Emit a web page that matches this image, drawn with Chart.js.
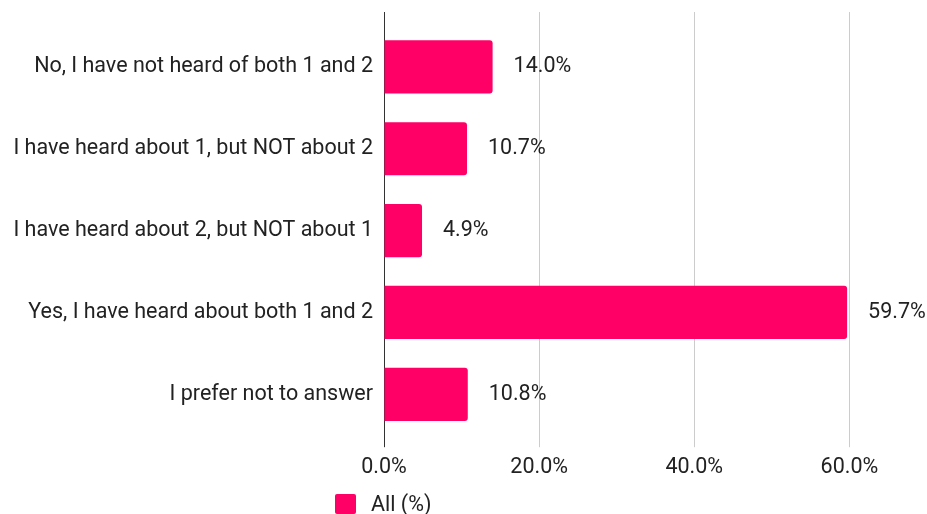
<!DOCTYPE html>
<html>
<head>
<meta charset="utf-8">
<script src="https://cdn.jsdelivr.net/npm/chart.js@4"></script>
<style>
  body { margin: 0; background: #fff; }
  #wrap { position: relative; width: 927px; height: 514px; }
  #legend { position: absolute; left: 335px; top: 491px; display: flex; align-items: center;
            font: 21.5px Roboto, sans-serif; color: #222; }
  #legend span.box { width: 21px; height: 20px; border-radius: 2px; background: #ff0066; margin-right: 15px; }
</style>
</head>
<body>
<div id="wrap">
  <canvas id="awarenessChart" width="927" height="514"></canvas>
  <div id="legend"><span class="box"></span><span>All (%)</span></div>
</div>
<script>
// DATA
const answers = [
  'No, I have not heard of both 1 and 2',
  'I have heard about 1, but NOT about 2',
  'I have heard about 2, but NOT about 1',
  'Yes, I have heard about both 1 and 2',
  'I prefer not to answer'
];
const allPercent = [14.0, 10.7, 4.9, 59.7, 10.8];
const xTicks = [0, 20, 40, 60];

const gridColor = ctx => ctx.tick && ctx.tick.value === 0 ? '#333' : '#ccc';
const keepTicks = scale => { scale.ticks = scale.ticks.filter(t => xTicks.includes(t.value)); };

// value labels to the right of each bar
const barLabels = {
  id: 'barLabels',
  afterDatasetsDraw(chart) {
    const ctx = chart.ctx;
    const meta = chart.getDatasetMeta(0);
    ctx.save();
    ctx.font = '21.5px Roboto, sans-serif';
    ctx.fillStyle = '#222';
    ctx.textAlign = 'left';
    ctx.textBaseline = 'middle';
    meta.data.forEach((bar, i) => {
      ctx.fillText(allPercent[i].toFixed(1) + '%', bar.x + 21, bar.y);
    });
    ctx.restore();
  }
};

const awarenessCtx = document.getElementById('awarenessChart').getContext('2d');
new Chart(awarenessCtx, {
  type: 'bar',
  data: {
    labels: answers,
    datasets: [{
      label: 'All (%)',
      data: allPercent,
      backgroundColor: '#ff0066',
      borderRadius: 3,
      borderSkipped: 'start',
      barPercentage: 0.65,
      categoryPercentage: 1
    }]
  },
  options: {
    indexAxis: 'y',
    responsive: false,
    animation: false,
    layout: { padding: { top: 12, bottom: 25, left: 0, right: 0 } },
    plugins: {
      legend: { display: false },
      tooltip: { enabled: false }
    },
    scales: {
      x: {
        min: 0,
        max: 70,
        afterBuildTicks: keepTicks,
        border: { display: false },
        grid: { color: gridColor, tickLength: 12, lineWidth: 1 },
        ticks: {
          padding: 8,
          color: '#222',
          font: { family: 'Roboto', size: 21.5 },
          callback: v => v.toFixed(1) + '%'
        }
      },
      x2: {
        position: 'top',
        min: 0,
        max: 70,
        afterBuildTicks: keepTicks,
        border: { display: false },
        grid: { color: gridColor, tickLength: 14, drawOnChartArea: false },
        ticks: { display: false }
      },
      y: {
        afterFit: scale => { scale.width = 384; },
        border: { display: false },
        grid: { display: false, drawTicks: false },
        ticks: {
          padding: 11,
          color: '#222',
          font: { family: 'Roboto', size: 21.5 }
        }
      }
    }
  },
  plugins: [barLabels]
});
</script>
</body>
</html>
